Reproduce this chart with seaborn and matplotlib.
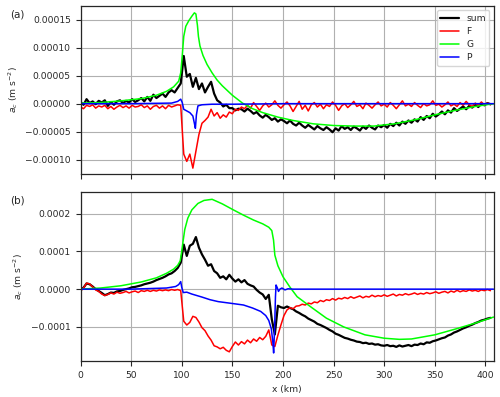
import numpy as np
import pandas as pd
import matplotlib
matplotlib.use("Agg")
import matplotlib.pyplot as plt
import seaborn as sns
from matplotlib.ticker import MultipleLocator, ScalarFormatter

# all values in units of 1e-5 m s^-2; noisy series sampled every 3 km
STEP_KM = 3

# ── panel (a) ────────────────────────────────────────────────────
sum_a = [
    0.3, -0.2, 0.8, 0.1, 0.4, -0.1, 0.5, 0.2, 0.6, -0.4,
    0.3, -0.2, 0.4, 0.6, 0.1, 0.5, 0.2, 0.8, 0.3, 0.6,
    1.0, 0.4, 1.2, 0.5, 1.6, 1.0, 1.4, 1.8, 1.2, 2.0,
    2.4, 2.0, 2.8, 3.6, 8.5, 4.8, 5.3, 3.0, 4.6, 2.6,
    3.6, 2.0, 3.0, 3.9, 1.8, 0.6, 0.2, -0.5, -0.2, -0.8,
    -0.8, -1.2, -0.9, -1.0, -1.4, -0.9, -1.3, -1.8, -1.5, -2.1,
    -2.5, -2.0, -2.4, -2.9, -2.6, -3.2, -2.8, -3.1, -3.5, -3.0,
    -3.6, -3.9, -3.4, -3.9, -4.3, -3.8, -4.2, -4.6, -4.0, -4.4,
    -4.7, -4.2, -4.6, -5.1, -4.4, -4.8, -4.0, -4.5, -4.2, -4.7,
    -4.1, -4.4, -4.8, -4.1, -4.5, -3.9, -4.3, -4.6, -3.9, -4.2,
    -3.8, -4.3, -3.6, -4.0, -3.4, -3.9, -3.2, -3.6, -3.0, -3.4,
    -2.8, -3.2, -2.4, -2.9, -2.2, -2.6, -1.8, -2.3, -1.9, -1.4,
    -1.9, -1.2, -1.6, -0.8, -1.3, -0.9, -0.5, -1.0, -0.4, -0.7,
    -0.2, -0.6, 0.0, -0.3, 0.1, -0.1,
]
F_a = [
    -0.6, -0.9, -0.3, -0.5, -0.2, -0.8, -0.4, -0.6, -0.3, -0.9,
    -0.5, -1.0, -0.6, -0.3, -0.7, -0.4, -0.8, -0.3, -0.6, -0.5,
    -0.2, -0.7, -0.4, -1.0, -0.5, -0.3, -0.8, -0.4, -0.9, -0.3,
    -0.6, -0.4, -0.2, -0.3, -9.0, -10.3, -9.0, -11.5, -8.5, -5.5,
    -3.5, -3.0, -2.4, -1.0, -2.2, -1.6, -2.6, -2.0, -2.4, -1.5,
    -1.8, -1.0, -1.2, -0.6, -0.9, -0.3, -0.8, 0.2, -0.5, -1.2,
    -0.4, 0.1, -0.6, -0.2, 0.5, -0.3, -0.8, -0.2, 0.3, -0.4,
    -1.4, -0.5, 0.4, -1.0, -0.3, -1.3, -0.2, 0.2, -0.6, -0.1,
    -0.9, -0.2, -0.5, 0.3, -0.3, -1.2, -0.4, 0.0, -0.7, -0.2,
    0.4, -0.5, -0.2, -0.9, 0.1, -0.3, -0.8, -0.2, 0.3, -0.4,
    -0.1, -0.6, 0.2, -0.3, -0.9, -0.2, 0.5, -0.4, -0.1, -0.5,
    0.2, -0.3, -0.7, 0.0, -0.4, -0.2, 0.5, -0.3, -0.1, -0.6,
    -0.2, 0.3, -0.4, -0.1, -0.5, 0.2, -0.3, 0.4, -0.2, -0.5,
    0.1, -0.3, 0.3, -0.2, 0.1, -0.2,
]
G_a_x = [0, 20, 40, 60, 75, 85, 92, 97, 99, 100.5, 102, 104, 107, 110, 112.5,
         114, 115.5, 116.5, 118, 121, 125, 130, 135, 140, 150, 160, 170, 180,
         195, 210, 230, 250, 270, 290, 310, 330, 350, 370, 390, 408]
G_a = [0.1, 0.2, 0.5, 0.9, 1.5, 2.2, 3.0, 4.0, 5.5, 8.5, 12.0, 13.8, 14.8, 15.6, 16.2,
       16.0, 14.0, 12.0, 10.3, 8.6, 7.0, 5.5, 4.2, 3.2, 1.5, 0.1, -0.9, -1.6,
       -2.4, -3.0, -3.6, -3.9, -4.0, -4.0, -3.6, -2.9, -2.0, -1.2, -0.5, 0.0]
P_a_x = [0, 50, 90, 96, 99, 100.5, 102, 105, 108, 111, 112.5, 113.5, 114.5, 116,
         120, 130, 150, 200, 300, 408]
P_a = [0.0, 0.0, 0.1, 0.4, 0.8, 0.2, -1.0, -1.3, -1.6, -2.2, -3.5, -4.4, -2.0, -0.4,
       -0.2, -0.1, -0.1, 0.0, 0.0, 0.0]

# ── panel (b) ────────────────────────────────────────────────────
sum_b = [
    -0.3, 0.4, 1.5, 1.3, 0.7, 0.0, -0.5, -1.0, -1.6, -1.3,
    -0.9, -1.0, -0.6, -0.5, -0.2, 0.0, 0.2, 0.5, 0.6, 0.8,
    1.0, 1.3, 1.5, 1.7, 2.0, 2.4, 2.7, 3.0, 3.4, 3.9,
    4.2, 4.8, 5.6, 7.0, 11.8, 8.8, 11.5, 12.0, 13.8, 11.0,
    9.2, 7.8, 6.2, 6.6, 4.8, 4.2, 3.0, 3.4, 2.6, 3.8,
    2.8, 2.0, 2.6, 1.8, 2.4, 1.4, 1.0, 0.7, -0.2, -0.9,
    -1.4, -2.6, -1.5, -8.0, -12.0, -4.4, -4.8, -5.0, -4.6, -5.0,
    -5.3, -5.9, -6.3, -6.8, -7.2, -7.8, -8.2, -8.6, -9.2, -9.5,
    -9.9, -10.3, -10.8, -11.2, -11.8, -12.1, -12.5, -12.9, -13.1, -13.4,
    -13.6, -13.9, -14.0, -14.3, -14.2, -14.5, -14.4, -14.7, -14.6, -14.9,
    -15.0, -14.8, -15.1, -15.0, -15.3, -14.9, -15.2, -15.0, -14.8, -15.1,
    -14.7, -14.8, -14.4, -14.6, -14.1, -14.2, -13.8, -13.6, -13.3, -13.0,
    -12.8, -12.3, -12.0, -11.5, -11.2, -10.8, -10.4, -10.1, -9.7, -9.4,
    -9.0, -8.7, -8.3, -8.1, -7.8, -7.6,
]
F_b = [
    -0.5, 0.3, 1.6, 1.4, 0.6, -0.2, -0.6, -1.3, -1.7, -1.4,
    -1.0, -1.3, -0.8, -1.1, -0.9, -0.6, -1.0, -0.7, -0.5, -0.9,
    -0.4, -0.6, -0.3, -0.6, -0.3, -0.5, -0.2, -0.4, -0.2, -0.4,
    -0.1, -0.3, -0.1, -0.4, -8.5, -9.5, -8.8, -7.2, -7.5, -8.7,
    -10.2, -11.0, -12.4, -13.5, -15.0, -15.3, -15.8, -15.4, -16.2, -16.6,
    -15.2, -14.0, -14.8, -13.9, -14.5, -13.5, -14.2, -13.2, -13.8, -12.8,
    -13.4, -12.5, -10.8, -14.8, -15.2, -12.2, -9.5, -7.0, -5.5, -4.9,
    -5.2, -4.5, -4.4, -4.0, -4.2, -3.7, -3.9, -3.4, -3.6, -3.0,
    -3.3, -2.8, -3.0, -2.5, -2.9, -2.4, -2.6, -2.2, -2.5, -2.0,
    -2.4, -2.1, -1.8, -2.3, -1.9, -2.1, -1.6, -2.0, -1.7, -1.9,
    -1.5, -1.9, -1.6, -1.3, -1.8, -1.4, -1.6, -1.2, -1.5, -1.3,
    -1.0, -1.4, -1.1, -1.3, -0.9, -1.2, -1.0, -0.7, -1.1, -0.8,
    -0.6, -1.0, -0.5, -0.8, -0.3, -0.7, -0.4, -0.6, -0.2, -0.5,
    -0.3, -0.6, -0.2, -0.4, -0.1, -0.4,
]
G_b_x = [0, 20, 40, 60, 75, 85, 92, 96, 98.5, 100, 101.5, 103, 106, 110, 116, 122,
         130, 140, 151, 161, 171, 180, 186, 189, 190.7, 192, 195, 200, 207, 214,
         227, 243, 260, 281, 300, 315, 327, 350, 370, 390, 408]
G_b = [0.0, 0.3, 0.9, 1.9, 3.0, 4.2, 5.3, 6.3, 7.5, 10.0, 13.0, 15.8, 18.8, 21.0, 22.7, 23.5,
       23.8, 22.6, 21.0, 19.6, 18.3, 17.3, 16.4, 15.5, 13.0, 9.0, 6.2, 3.3, 0.5, -2.0,
       -4.6, -7.7, -10.0, -12.1, -13.0, -13.3, -13.2, -12.1, -10.6, -9.0, -7.4]
P_b_x = [0, 50, 85, 94, 97, 99, 100, 101.5, 105, 110, 120, 128, 136, 150, 161, 170,
         178, 183, 186, 188.5, 190, 190.8, 191.8, 192.6, 193.2, 194.5, 195.6, 197,
         199, 202, 205, 210, 250, 300, 408]
P_b = [0.0, 0.0, 0.3, 0.7, 1.2, 2.0, 0.5, -0.9, -0.8, -1.3, -2.1, -2.8, -3.3, -3.8, -4.2, -5.0,
       -5.9, -7.0, -8.3, -10.5, -14.0, -16.9, -10.0, -2.0, 1.1, 0.3, -0.6, 0.0,
       0.3, -0.2, 0.1, 0.0, 0.0, 0.0, 0.0]

SCALE = 1e-5
COLORS = {"sum": "black", "F": "red", "G": "lime", "P": "blue"}
WIDTHS = {"sum": 1.6, "F": 1.1, "G": 1.1, "P": 1.1}


def panel_frame(sum_v, F_v, G_x, G_v, P_x, P_v):
    parts = [
        pd.DataFrame({"x": np.arange(len(sum_v)) * STEP_KM, "y": sum_v, "term": "sum"}),
        pd.DataFrame({"x": np.arange(len(F_v)) * STEP_KM, "y": F_v, "term": "F"}),
        pd.DataFrame({"x": G_x, "y": G_v, "term": "G"}),
        pd.DataFrame({"x": P_x, "y": P_v, "term": "P"}),
    ]
    df = pd.concat(parts, ignore_index=True)
    df["y"] = df["y"] * SCALE
    return df


sns.set_style("ticks")
plt.rcParams["font.family"] = ["DejaVu Sans"]
FS = 6.6

fig = plt.figure(figsize=(5.0, 3.97), dpi=100)
ax_a = fig.add_axes([0.161, 0.561, 0.827, 0.425])
ax_b = fig.add_axes([0.161, 0.091, 0.827, 0.426])

frames = [
    panel_frame(sum_a, F_a, G_a_x, G_a, P_a_x, P_a),
    panel_frame(sum_b, F_b, G_b_x, G_b, P_b_x, P_b),
]

for ax, df in zip([ax_a, ax_b], frames):
    for term in ["sum", "F", "G", "P"]:
        sub = df[df["term"] == term]
        sns.lineplot(data=sub, x="x", y="y", ax=ax, color=COLORS[term],
                     lw=WIDTHS[term], label=term, estimator=None, sort=True)
    ax.set_xlim(0, 408.5)
    ax.xaxis.set_major_locator(MultipleLocator(50))
    ax.grid(True, color="#b0b0b0", lw=0.8)
    ax.set_axisbelow(True)
    fmt = ScalarFormatter(useOffset=False)
    fmt.set_scientific(False)
    ax.yaxis.set_major_formatter(fmt)
    ax.tick_params(labelsize=FS, length=3.5, width=0.8)
    ax.set_ylabel(r"$a_c$ (m s$^{-2}$)", fontsize=FS)
    for sp in ax.spines.values():
        sp.set_visible(True)
        sp.set_linewidth(0.9)

ax_a.set_ylim(-12.6e-5, 17.5e-5)
ax_a.yaxis.set_major_locator(MultipleLocator(5e-5))
ax_a.set_xlabel("")
ax_a.set_xticklabels([])
ax_a.legend(loc="upper right", fontsize=FS, frameon=True, handlelength=2.0,
            fancybox=True, borderpad=0.4, labelspacing=0.45)

ax_b.set_ylim(-19.0e-5, 25.8e-5)
ax_b.yaxis.set_major_locator(MultipleLocator(1e-4))
ax_b.set_xlabel("x (km)", fontsize=FS)
ax_b.legend_.remove()

fig.text(0.02, 0.955, "(a)", fontsize=7.5)
fig.text(0.02, 0.487, "(b)", fontsize=7.5)

fig.savefig("out.png", dpi=100)
